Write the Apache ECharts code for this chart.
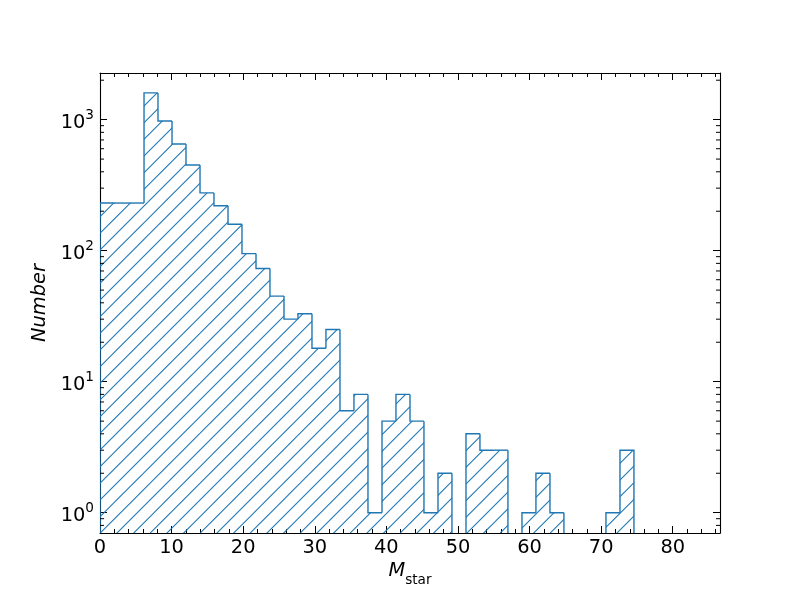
<!DOCTYPE html>
<html>
<head>
<meta charset="utf-8">
<script src="https://cdn.jsdelivr.net/npm/echarts@6/dist/echarts.min.js"></script>
<style>html,body{margin:0;padding:0;background:#fff;}#chart{width:800px;height:600px;}</style>
</head>
<body>
<div id="chart"></div>
<script>
// ---- data ----
const binEdges = [0, 2.23, 4.19, 6.15, 8.10, 10.06, 12.01, 13.97, 15.92, 17.88, 19.83, 21.79, 23.74,
  25.70, 27.65, 29.61, 31.56, 33.52, 35.47, 37.43, 39.39, 41.34, 43.30, 45.25, 47.21, 49.16, 51.12,
  53.07, 55.03, 56.98, 58.94, 60.89, 62.85, 64.80, 66.76, 68.71, 70.67, 72.63, 74.58];
const counts = [231, 231, 231, 1600, 977, 652, 451, 276, 220, 159, 95, 73, 45, 30, 33, 18, 25, 6, 8,
  1, 5, 8, 5, 1, 2, 0, 4, 3, 3, 0, 1, 2, 1, 0, 0, 0, 1, 3];
const xTickLabels = ['0', '10', '20', '30', '40', '50', '60', '70', '80'];
const yMinorTicks = [0.8, 0.9, 2, 3, 4, 5, 6, 7, 8, 9, 20, 30, 40, 50, 60, 70, 80, 90,
  200, 300, 400, 500, 600, 700, 800, 900, 2000];
const xMin = 0, xMax = 86.6, yMin = 0.7, yMax = 2270;

const blue = '#1f77b4';
const font = 'DejaVu Sans';
const fs = 19.4;

// hatch pattern '/'
const S = 50, d = S / 3;
const cv = document.createElement('canvas');
cv.width = S; cv.height = S;
const ctx = cv.getContext('2d');
ctx.strokeStyle = blue; ctx.lineWidth = 1.1;
for (let k = -1; k <= 7; k++) {
  const c = k * d;
  ctx.beginPath();
  ctx.moveTo(c + 20, -20);
  ctx.lineTo(c - S - 20, S + 20);
  ctx.stroke();
}
const hatch = { image: cv, repeat: 'repeat' };

const histData = counts.map((c, i) => [binEdges[i], binEdges[i + 1], c]);
const floorVal = 0.3;

const chart = echarts.init(document.getElementById('chart'), null, { renderer: 'canvas' });

function xAxisBase(pos, major) {
  return {
    type: 'value', position: pos, min: xMin, max: xMax,
    interval: major ? 10 : 2,
    axisLine: { show: major, onZero: false, lineStyle: { color: '#000', width: 1.1 } },
    axisTick: { show: true, inside: true, length: major ? 7 : 4, lineStyle: { color: '#000', width: 1 } },
    axisLabel: {
      show: major && pos === 'bottom', margin: 5, color: '#000', fontFamily: font, fontSize: fs,
      showMaxLabel: false,
      formatter: function (v) {
        const idx = Math.round(v / 10);
        return (Math.abs(v - idx * 10) < 1e-6 && xTickLabels[idx] !== undefined) ? xTickLabels[idx] : '';
      }
    },
    splitLine: { show: false }
  };
}

const xAxes = [xAxisBase('bottom', true), xAxisBase('bottom', false), xAxisBase('top', true), xAxisBase('top', false)];
xAxes[0].name = '{i|M}{s|star}';
xAxes[0].nameLocation = 'middle';
xAxes[0].nameGap = 32;
xAxes[0].nameTextStyle = {
  color: '#000',
  rich: {
    i: { fontFamily: font, fontStyle: 'italic', fontSize: fs, lineHeight: fs, color: '#000', verticalAlign: 'bottom', padding: [0, 0, 7, 0] },
    s: { fontFamily: font, fontSize: 13.6, lineHeight: 14, color: '#000', verticalAlign: 'bottom' }
  }
};

function yAxisBase(pos) {
  return {
    type: 'log', logBase: 10, position: pos, min: yMin, max: yMax,
    axisLine: { show: true, onZero: false, lineStyle: { color: '#000', width: 1.1 } },
    axisTick: { show: true, inside: true, length: 7, lineStyle: { color: '#000', width: 1 } },
    minorTick: { show: false },
    splitLine: { show: false },
    axisLabel: {
      show: pos === 'left', margin: 6, color: '#000', fontFamily: font,
      showMinLabel: false, showMaxLabel: false,
      padding: [16, 0, 0, 0],
      formatter: function (v) {
        const l = Math.log10(v);
        const r = Math.round(l);
        if (Math.abs(l - r) > 1e-6) return '';
        return '{n|10}{p|' + r + '}';
      },
      rich: {
        n: { fontFamily: font, fontSize: fs, lineHeight: fs, color: '#000', verticalAlign: 'bottom', padding: [0, 0, 5, 0] },
        p: { fontFamily: font, fontSize: 13.6, lineHeight: 14, color: '#000', verticalAlign: 'bottom', padding: [0, 0, 15, 0] }
      }
    }
  };
}
const yAxes = [yAxisBase('left'), yAxisBase('right')];
yAxes[0].name = 'Number';
yAxes[0].nameLocation = 'middle';
yAxes[0].nameGap = 49;
yAxes[0].nameTextStyle = { color: '#000', fontFamily: font, fontStyle: 'italic', fontSize: fs };

chart.setOption({
  animation: false,
  backgroundColor: '#fff',
  grid: { left: 100, right: 80, top: 73, bottom: 67, containLabel: false, outerBoundsMode: 'none' },
  xAxis: xAxes,
  yAxis: yAxes,
  series: [
    {
      type: 'custom', xAxisIndex: 0, yAxisIndex: 0, clip: true, z: 2,
      data: histData,
      encode: { x: [0, 1], y: 2 },
      renderItem: function (params, api) {
        const i = params.dataIndex;
        const x0 = api.value(0), x1 = api.value(1), c = api.value(2);
        const prev = i > 0 ? counts[i - 1] : 0;
        const yc = c > 0 ? c : floorVal;
        const yp = prev > 0 ? prev : floorVal;
        const pTL = api.coord([x0, yc]);
        const pTR = api.coord([x1, yc]);
        const pB = api.coord([x0, floorVal]);
        const pPrev = api.coord([x0, yp]);
        const children = [];
        if (c > 0) {
          children.push({
            type: 'rect', silent: true,
            shape: { x: pTL[0], y: pTL[1], width: pTR[0] - pTL[0], height: pB[1] - pTL[1] },
            style: { fill: hatch, stroke: null }
          });
        }
        const pts = [pPrev, pTL, pTR];
        if (i === counts.length - 1) pts.push(api.coord([x1, floorVal]));
        children.push({
          type: 'polyline', silent: true,
          shape: { points: pts },
          style: { stroke: blue, lineWidth: 1.4, fill: null, lineJoin: 'miter' }
        });
        return { type: 'group', children: children };
      }
    },
    {
      type: 'custom', xAxisIndex: 0, yAxisIndex: 0, z: 5,
      data: yMinorTicks.map(v => [xMin, v]),
      encode: { x: 0, y: 1 },
      renderItem: function (params, api) {
        const v = api.value(1);
        const p = api.coord([xMin, v]);
        const q = api.coord([xMax, v]);
        return {
          type: 'group', silent: true, children: [
            { type: 'line', shape: { x1: p[0], y1: p[1], x2: p[0] + 4, y2: p[1] }, style: { stroke: '#000', lineWidth: 1 } },
            { type: 'line', shape: { x1: q[0] - 4, y1: q[1], x2: q[0], y2: q[1] }, style: { stroke: '#000', lineWidth: 1 } }
          ]
        };
      }
    }
  ]
});
</script>
</body>
</html>
